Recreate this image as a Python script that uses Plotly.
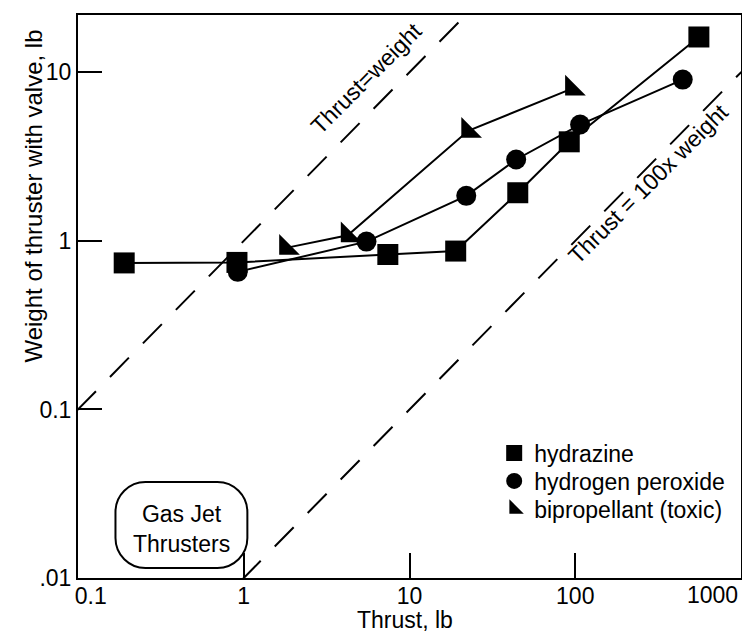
import numpy as np
import plotly.graph_objects as go

# ---------------- data ----------------
hydrazine_thrust = [0.19, 0.91, 7.4, 19, 45, 92, 557]
hydrazine_weight = [0.74, 0.745, 0.83, 0.87, 1.93, 3.87, 16.2]

peroxide_thrust = [0.92, 5.5, 22, 44, 107, 445]
peroxide_weight = [0.655, 0.99, 1.85, 3.04, 4.9, 9.05]

biprop_thrust = [1.8, 4.24, 22.6, 95.6]
biprop_weight = [0.909, 1.08, 4.5, 8.0]

series_names = ["hydrazine", "hydrogen peroxide", "bipropellant (toxic)"]

ref_ratios = [1, 0.01]          # weight/thrust of the two reference lines
ref_thrust_span = [0.01, 10000]

x_tickvals = [0.1, 1, 10, 100, 1000]
x_ticktext = ["0.1", "1", "10", "100", "1000"]
y_tickvals = [0.01, 0.1, 1, 10]
y_ticktext = [".01", "0.1", "1", "10"]

# ---------------- layout geometry ----------------
# page body has an 8px margin, so the figure starts at (8, 8) on screen
OFF = 8
W, H = 734, 624
S_LEFT, S_RIGHT, S_TOP, S_BOTTOM = 77.5, 741, 15, 578   # plot area on screen
ML, MR = S_LEFT - OFF, W - (S_RIGHT - OFF)
MT, MB = S_TOP - OFF, H - (S_BOTTOM - OFF)
PW, PH = S_RIGHT - S_LEFT, S_BOTTOM - S_TOP
FONT = "Liberation Sans, Arial, Helvetica, sans-serif"
NB = "\u00a0"


def px2paper(px, py):
    """screen pixel -> paper coordinates"""
    return (px - S_LEFT) / PW, (S_BOTTOM - py) / PH


# first label nudged right; last label drawn as an annotation inside the frame
x_ticklabels = list(x_ticktext)
x_ticklabels[0] = NB * 4 + x_ticklabels[0]
x_ticklabels[-1] = ""

fig = go.Figure()

# reference dashed lines
for r in ref_ratios:
    fig.add_trace(go.Scatter(
        x=ref_thrust_span, y=[t * r for t in ref_thrust_span],
        mode="lines", line=dict(color="black", width=2, dash="27px,20px"),
        showlegend=False, hoverinfo="skip"))

symbols = ["square", "circle", "triangle-sw"]
sizes = [21, 20, 23]
data = [(hydrazine_thrust, hydrazine_weight),
        (peroxide_thrust, peroxide_weight),
        (biprop_thrust, biprop_weight)]

for (xs, ys), sym, sz, nm in zip(data, symbols, sizes, series_names):
    fig.add_trace(go.Scatter(
        x=xs, y=ys, mode="lines+markers", name=nm,
        line=dict(color="black", width=2),
        marker=dict(symbol=sym, size=sz, color="black", line=dict(width=0)),
        showlegend=False))

# legend entries (markers only), one legend per row for exact spacing
legend_ids = ["legend", "legend2", "legend3"]
for sym, nm, lid in zip(symbols, series_names, legend_ids):
    fig.add_trace(go.Scatter(
        x=[None], y=[None], mode="markers", name=nm, legend=lid,
        marker=dict(symbol=sym, size=16, color="black"),
        showlegend=True))

# rounded box around "Gas Jet Thrusters"
bx0, bx1, by0, by1, rad = 115, 247, 482, 568, 30
k = 0.5523 * rad


def P(x, y):
    a, b = px2paper(x, y)
    return f"{a:.5f},{b:.5f}"


path = (f"M {P(bx0 + rad, by0)} L {P(bx1 - rad, by0)} "
        f"C {P(bx1 - rad + k, by0)} {P(bx1, by0 + rad - k)} {P(bx1, by0 + rad)} "
        f"L {P(bx1, by1 - rad)} "
        f"C {P(bx1, by1 - rad + k)} {P(bx1 - rad + k, by1)} {P(bx1 - rad, by1)} "
        f"L {P(bx0 + rad, by1)} "
        f"C {P(bx0 + rad - k, by1)} {P(bx0, by1 - rad + k)} {P(bx0, by1 - rad)} "
        f"L {P(bx0, by0 + rad)} "
        f"C {P(bx0, by0 + rad - k)} {P(bx0 + rad - k, by0)} {P(bx0 + rad, by0)} Z")
fig.add_shape(type="path", xref="paper", yref="paper", path=path,
              line=dict(color="black", width=2))

ann_font = dict(family=FONT, size=23, color="black")
gx, gy = px2paper(181, 529)
fig.add_annotation(xref="paper", yref="paper", x=gx, y=gy, text="Gas Jet<br>Thrusters",
                   showarrow=False, font=ann_font, xanchor="center", yanchor="middle")

fig.add_annotation(x=np.log10(5.49), y=np.log10(9.3), text="Thrust=weight",
                   textangle=-45, showarrow=False, font=ann_font,
                   xanchor="center", yanchor="middle")
ax_, ay_ = px2paper(648, 184)
fig.add_annotation(xref="paper", yref="paper", x=ax_, y=ay_, text="Thrust = 100x weight",
                   textangle=-45, showarrow=False, font=ann_font,
                   xanchor="center", yanchor="middle")

# last x tick label, right-aligned at the frame edge
lx_, ly_ = px2paper(S_RIGHT - 1, 595)
fig.add_annotation(xref="paper", yref="paper", x=lx_, y=ly_, text=x_ticktext[-1],
                   showarrow=False, font=ann_font, xanchor="right", yanchor="middle")

# axis titles
tx, ty = px2paper(32, 196)
fig.add_annotation(xref="paper", yref="paper", x=tx, y=ty, text="Weight of thruster with valve, lb",
                   textangle=-90, showarrow=False, font=dict(family=FONT, size=24, color="black"),
                   xanchor="center", yanchor="middle")
tx, ty = px2paper(405, 620)
fig.add_annotation(xref="paper", yref="paper", x=tx, y=ty, text="Thrust, lb",
                   showarrow=False, font=dict(family=FONT, size=23, color="black"),
                   xanchor="center", yanchor="middle")

legend_rows = [453, 481, 509]
legend_common = dict(xanchor="left", yanchor="middle", bgcolor="rgba(0,0,0,0)",
                     font=dict(family=FONT, size=23, color="black"), borderwidth=0,
                     itemsizing="trace")
legends = {}
for lid, row in zip(legend_ids, legend_rows):
    lx, ly = px2paper(494, row)
    legends[lid] = dict(x=lx, y=ly, **legend_common)

fig.update_layout(
    width=W, height=H,
    margin=dict(l=ML, r=MR, t=MT, b=MB, autoexpand=False),
    paper_bgcolor="white", plot_bgcolor="white",
    font=dict(family=FONT, size=23, color="black"),
    xaxis=dict(type="log", range=[-1, 3], tickvals=x_tickvals, ticktext=x_ticklabels,
               ticks="inside", ticklen=25, tickwidth=2, tickcolor="black",
               ticklabeloverflow="allow", ticklabelstandoff=-4,
               showline=True, linecolor="black", linewidth=2, mirror=True,
               showgrid=False, zeroline=False, tickfont=ann_font),
    yaxis=dict(type="log", range=[-2, 1.34], tickvals=y_tickvals, ticktext=y_ticktext,
               ticks="inside", ticklen=24, tickwidth=2, tickcolor="black",
               ticklabeloverflow="allow",
               showline=True, linecolor="black", linewidth=2, mirror=True,
               showgrid=False, zeroline=False, tickfont=ann_font),
    **legends,
)

fig.write_html("out.html")
